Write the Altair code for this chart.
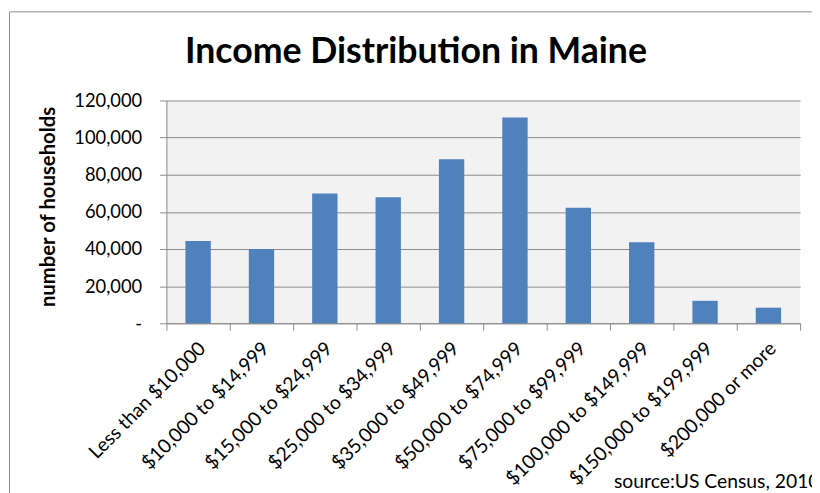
import altair as alt
import pandas as pd

categories = [
    "Less than $10,000",
    "$10,000 to $14,999",
    "$15,000 to $24,999",
    "$25,000 to $34,999",
    "$35,000 to $49,999",
    "$50,000 to $74,999",
    "$75,000 to $99,999",
    "$100,000 to $149,999",
    "$150,000 to $199,999",
    "$200,000 or more",
]
households = [44300, 40000, 69900, 67900, 88400, 110900, 62200, 43700, 12100, 8400]
y_ticks = [0, 20000, 40000, 60000, 80000, 100000, 120000]

title_text = "Income Distribution in Maine"
y_title = "number of households"
source_text = "source:US Census, 2010"

FONT = "Lato"
GRAY = "#8c8c8c"

df = pd.DataFrame({"bracket": categories, "households": households})

bars = alt.Chart(df).mark_bar(
    color="#4f81bd", width=alt.RelativeBandSize(0.4)
).encode(
    x=alt.X(
        "bracket:N",
        sort=categories,
        title=None,
        scale=alt.Scale(paddingInner=0, paddingOuter=0),
        axis=alt.Axis(
            labelAngle=-45,
            labelAlign="right",
            labelBaseline="middle",
            labelFont=FONT,
            labelFontSize=19.5,
            labelColor="black",
            labelPadding=15,
            labelOffset=4,
            labelOverlap=False,
            labelLimit=400,
            tickBand="extent",
            tickSize=7,
            tickColor=GRAY,
            domainColor=GRAY,
            grid=False,
        ),
    ),
    y=alt.Y(
        "households:Q",
        scale=alt.Scale(domain=[0, 120000], nice=False),
        axis=alt.Axis(
            values=y_ticks,
            labelExpr="datum.value == 0 ? '-\u00a0\u00a0\u00a0' : format(datum.value, ',')",
            labelFont=FONT,
            labelFontSize=18.5,
            labelColor="black",
            labelPadding=18,
            tickSize=7,
            tickColor=GRAY,
            domainColor=GRAY,
            gridColor=GRAY,
            title=y_title,
            titleFont=FONT,
            titleFontSize=20.5,
            titleFontWeight="bold",
            titleColor="black",
            titleAngle=-90,
            titleAlign="center",
            titleBaseline="middle",
            titleX=-119,
            titleY=107,
        ),
    ),
)

one = alt.Data(values=[{"k": 1}])

frame_left = alt.Chart(one).mark_rule(color=GRAY, strokeWidth=1).encode(
    x=alt.value(-158.5), y=alt.value(-89.5), y2=alt.value(500)
)
frame_top = alt.Chart(one).mark_rule(color=GRAY, strokeWidth=1).encode(
    x=alt.value(-158.5), x2=alt.value(800), y=alt.value(-89.5)
)

title = alt.Chart(one).mark_text(
    align="center", baseline="alphabetic", font=FONT, fontSize=36,
    fontWeight="bold", color="black"
).encode(x=alt.value(252), y=alt.value(-38), text=alt.value(title_text))

source = alt.Chart(one).mark_text(
    align="left", baseline="alphabetic", font=FONT, fontSize=19.5, color="black"
).encode(x=alt.value(452), y=alt.value(391), text=alt.value(source_text))

chart = alt.layer(frame_left, frame_top, bars, title, source).properties(
    width=640,
    height=225,
    autosize="none",
    padding={"left": 160, "top": 91, "right": 12, "bottom": 169},
    background="white",
).configure_view(fill="#f2f2f2", strokeWidth=0)

chart.save("out.html", embed_options={"renderer": "svg", "actions": False})
